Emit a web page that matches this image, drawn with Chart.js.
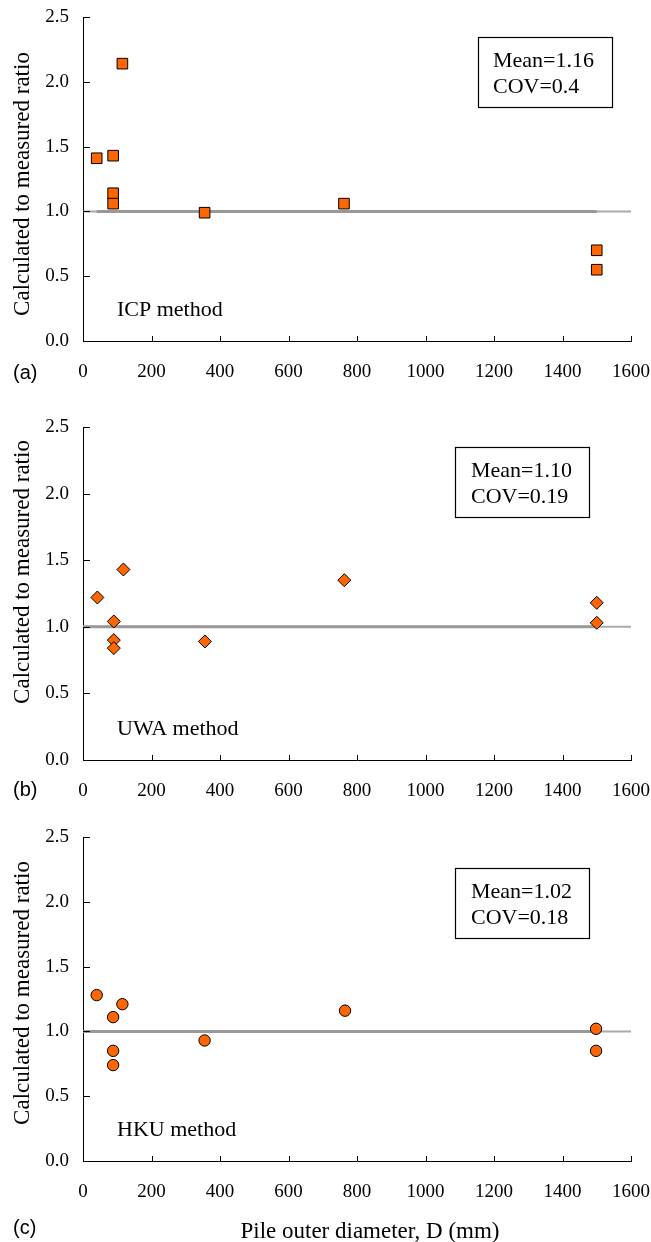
<!DOCTYPE html>
<html lang="en">
<head>
    <meta charset="UTF-8">
    <title>Calculated to measured ratio vs pile diameter</title>
    <style>
        body {
            margin: 0;
            background: #fff;
        }
        .panel {
            position: absolute;
            left: 0;
        }
    </style>
    <script src="https://cdn.jsdelivr.net/npm/chart.js"></script>
</head>
<body>

    <canvas id="chartA" class="panel" style="top:0" width="651" height="400"></canvas>
    <canvas id="chartB" class="panel" style="top:400px" width="651" height="410"></canvas>
    <canvas id="chartC" class="panel" style="top:810px" width="651" height="432"></canvas>

    <script>
        // pile outer diameter (mm) and calculated/measured ratio for each method
        const icpD = [40, 88, 115, 88, 88, 355, 762, 1500, 1500];
        const icpRatio = [1.41, 1.43, 2.14, 1.14, 1.06, 0.99, 1.06, 0.70, 0.55];

        const uwaD = [42, 90, 90, 90, 118, 356, 763, 1500, 1500];
        const uwaRatio = [1.22, 1.04, 0.90, 0.84, 1.43, 0.89, 1.35, 1.18, 1.03];

        const hkuD = [40, 88, 115, 88, 88, 355, 765, 1498, 1498];
        const hkuRatio = [1.28, 1.11, 1.21, 0.85, 0.74, 0.93, 1.16, 1.02, 0.85];

        // ratio = 1 reference line
        const refThinX = [0, 1600];
        const refThickA = [40, 1500];
        const refThickBC = [0, 1500];
        const refY = 1.0;

        const xMax = 1600, xStep = 200;
        const yMax = 2.5, yStep = 0.5;

        const yTitle = 'Calculated to measured ratio';
        const xTitle = 'Pile outer diameter, D (mm)';

        const serif = "'Liberation Serif', 'Times New Roman', serif";
        const sans = "'Liberation Sans', Arial, sans-serif";
        const orange = '#ff6600';

        const toPoints = (xs, ys) => xs.map((x, i) => ({x: x, y: ys[i]}));
        const flat = xs => xs.map(x => ({x: x, y: refY}));

        // inside ticks, axis titles, panel letter, method name and stats box
        const decorPlugin = {
            id: 'decor',
            afterDraw(chart) {
                const o = chart.options.plugins.decor;
                const ctx = chart.ctx;
                const area = chart.chartArea;
                const xs = chart.scales.x, ys = chart.scales.y;
                ctx.save();
                ctx.strokeStyle = '#000';
                ctx.lineWidth = 1;
                ctx.beginPath();
                xs.ticks.forEach(t => {
                    const px = Math.round(xs.getPixelForValue(t.value)) + 0.5;
                    ctx.moveTo(px, area.bottom);
                    ctx.lineTo(px, area.bottom - 5);
                });
                ys.ticks.forEach(t => {
                    const py = Math.round(ys.getPixelForValue(t.value)) + 0.5;
                    ctx.moveTo(area.left, py);
                    ctx.lineTo(area.left + 7, py);
                });
                ctx.stroke();

                ctx.fillStyle = '#000';
                ctx.textBaseline = 'middle';

                // y axis title, rotated
                ctx.save();
                ctx.font = '23px ' + serif;
                ctx.textAlign = 'center';
                ctx.translate(23, o.yTitleY);
                ctx.rotate(-Math.PI / 2);
                ctx.fillText(yTitle, 0, 0);
                ctx.restore();

                if (o.showXTitle) {
                    ctx.font = '23px ' + serif;
                    ctx.textAlign = 'center';
                    ctx.fillText(xTitle, 370, area.bottom + 71);
                }

                ctx.textAlign = 'left';
                ctx.font = '20px ' + sans;
                ctx.fillText(o.letter, 13, area.bottom + o.letterDy);

                ctx.font = '22px ' + serif;
                ctx.fillText(o.method, 117, area.bottom - 31);

                const b = o.box;
                ctx.lineWidth = 1.2;
                ctx.strokeRect(b.x + 0.5, area.top + b.dy + 0.5, 134, 70);
                ctx.fillText(o.stats[0], b.tx, area.top + b.dy + 24);
                ctx.fillText(o.stats[1], b.tx, area.top + b.dy + 50);
                ctx.restore();
            }
        };

        function makeChart(id, opts) {
            const ctx = document.getElementById(id).getContext('2d');
            return new Chart(ctx, {
                type: 'scatter',
                data: {
                    datasets: [{
                        data: toPoints(opts.xs, opts.ys),
                        pointStyle: opts.marker,
                        pointRadius: opts.radius,
                        pointBackgroundColor: orange,
                        pointBorderColor: '#000',
                        pointBorderWidth: 1,
                        order: 0
                    }, {
                        type: 'line',
                        data: flat(opts.thick),
                        borderColor: '#999999',
                        borderWidth: 3,
                        pointRadius: 0,
                        order: 1
                    }, {
                        type: 'line',
                        data: flat(refThinX),
                        borderColor: '#aaaaaa',
                        borderWidth: 2,
                        pointRadius: 0,
                        order: 2
                    }]
                },
                options: {
                    responsive: false,
                    animation: false,
                    layout: {
                        padding: {top: opts.top, right: 20, bottom: 0, left: 0}
                    },
                    plugins: {
                        legend: {display: false},
                        tooltip: {enabled: false},
                        decor: {
                            letter: opts.letter,
                            letterDy: opts.letterDy,
                            method: opts.method,
                            stats: opts.stats,
                            box: opts.box,
                            yTitleY: opts.yTitleY,
                            showXTitle: opts.xTitle
                        }
                    },
                    scales: {
                        x: {
                            type: 'linear',
                            min: 0,
                            max: xMax,
                            afterFit: s => {
                                s.height = opts.xHeight;
                                s.paddingLeft = 0;
                                s.paddingRight = 0;
                            },
                            grid: {display: false, drawTicks: false},
                            border: {display: true, color: '#000', width: 1},
                            ticks: {
                                stepSize: xStep,
                                padding: 20,
                                color: '#000',
                                font: {family: serif, size: 19},
                                callback: v => String(v)
                            }
                        },
                        y: {
                            min: 0,
                            max: yMax,
                            afterFit: s => {
                                s.width = 83;
                                s.paddingTop = 0;
                                s.paddingBottom = 0;
                            },
                            grid: {display: false, drawTicks: false},
                            border: {display: true, color: '#000', width: 1},
                            ticks: {
                                stepSize: yStep,
                                padding: 14,
                                color: '#000',
                                font: {family: serif, size: 19},
                                callback: v => v.toFixed(1)
                            }
                        }
                    }
                },
                plugins: [decorPlugin]
            });
        }

        makeChart('chartA', {
            xs: icpD, ys: icpRatio, marker: 'rect', radius: 7.5,
            thick: refThickA, top: 17, xHeight: 59, xTitle: false, yTitleY: 184,
            letter: '(a)', letterDy: 32, method: 'ICP method',
            stats: ['Mean=1.16', 'COV=0.4'], box: {x: 478, dy: 20, tx: 493}
        });
        makeChart('chartB', {
            xs: uwaD, ys: uwaRatio, marker: 'rectRot', radius: 6.5,
            thick: refThickBC, top: 27, xHeight: 50, xTitle: false, yTitleY: 172,
            letter: '(b)', letterDy: 30, method: 'UWA method',
            stats: ['Mean=1.10', 'COV=0.19'], box: {x: 455, dy: 20, tx: 471}
        });
        makeChart('chartC', {
            xs: hkuD, ys: hkuRatio, marker: 'circle', radius: 5.7,
            thick: refThickBC, top: 27, xHeight: 81, xTitle: true, yTitleY: 183,
            letter: '(c)', letterDy: 67, method: 'HKU method',
            stats: ['Mean=1.02', 'COV=0.18'], box: {x: 455, dy: 31, tx: 471}
        });
    </script>

</body>
</html>
